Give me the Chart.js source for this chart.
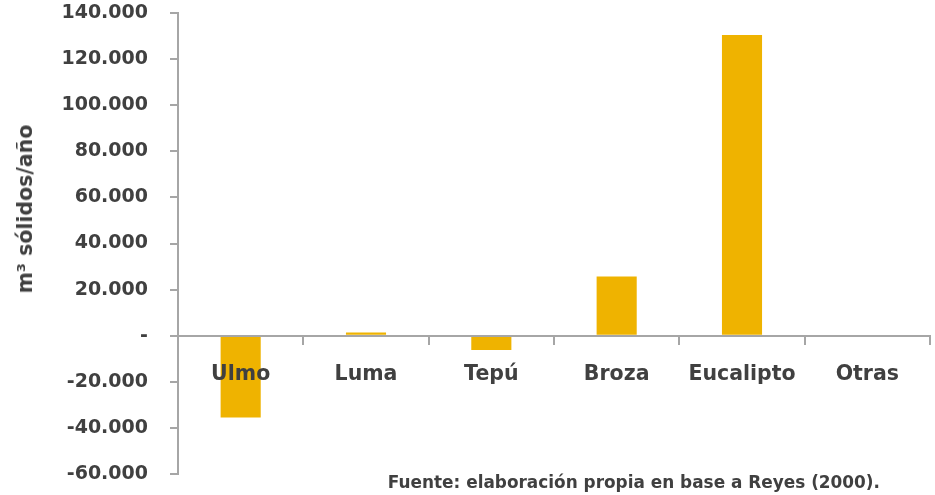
<!DOCTYPE html>
<html>
<head>
<meta charset="utf-8">
<script src="https://cdn.jsdelivr.net/npm/chart.js@4/dist/chart.umd.min.js"></script>
<style>
  html, body { margin: 0; padding: 0; background: #ffffff; }
  #wrap { position: relative; width: 935px; height: 495px; overflow: hidden; }
  #c { position: absolute; left: 0; top: 0; }
  #src { position: absolute; right: 55px; top: 472px; font-family: "DejaVu Sans", sans-serif; font-weight: bold; font-size: 16.9px; color: #404040; white-space: nowrap; }
  #ytitle { position: absolute; left: 25px; top: 209px; transform: translate(-50%, -50%) rotate(-90deg); font-family: "DejaVu Sans", sans-serif; font-weight: bold; font-size: 20.5px; color: #404040; white-space: nowrap; }
</style>
</head>
<body>
<div id="wrap">
  <canvas id="c" width="935" height="495"></canvas>
  <div id="ytitle"></div>
  <div id="src">Fuente: elaboración propia en base a Reyes (2000).</div>
</div>
<script>
const categories = ["Ulmo", "Luma", "Tepú", "Broza", "Eucalipto", "Otras"];
const values = [-35500, 1400, -6200, 25700, 130500, 0];
const yTitle = "m³ sólidos/año";

const textColor = "#404040";
const axisColor = "#A6A6A6";
const barColor = "#EFB300";

document.getElementById("ytitle").textContent = yTitle;

function fmt(v) {
  if (v === 0) return "-";
  const neg = v < 0;
  const s = Math.abs(v).toString().replace(/\B(?=(\d{3})+(?!\d))/g, ".");
  return (neg ? "-" : "") + s;
}

new Chart(document.getElementById("c"), {
  type: "bar",
  data: {
    labels: categories,
    datasets: [{
      data: values,
      backgroundColor: barColor,
      borderWidth: 0,
      barPercentage: 0.32,
      categoryPercentage: 1.0
    }]
  },
  options: {
    responsive: false,
    animation: false,
    devicePixelRatio: 1,
    layout: { padding: { top: 0, right: 5, bottom: 0, left: 0 } },
    plugins: { legend: { display: false }, tooltip: { enabled: false } },
    scales: {
      x: {
        position: { y: 0 },
        grid: {
          display: true,
          drawOnChartArea: false,
          drawTicks: true,
          tickLength: 8,
          color: axisColor,
          lineWidth: 2,
          offset: true,
          z: 1
        },
        border: { display: true, color: axisColor, width: 2, z: 1 },
        ticks: {
          z: 1,
          color: textColor,
          padding: 19,
          font: { family: "DejaVu Sans", weight: "bold", size: 20.5 },
          maxRotation: 0
        }
      },
      y: {
        min: -60000,
        max: 140000,
        afterFit: function(scale) {
          scale.width = 178;
          scale.paddingTop = 13;
          scale.paddingBottom = 21;
        },
        grid: {
          display: true,
          drawOnChartArea: false,
          drawTicks: true,
          tickLength: 8,
          color: axisColor,
          lineWidth: 2
        },
        border: { display: true, color: axisColor, width: 2 },
        ticks: {
          stepSize: 20000,
          color: textColor,
          padding: 22,
          font: { family: "DejaVu Sans", weight: "bold", size: 19 },
          callback: function(v) { return fmt(v); }
        }
      }
    }
  }
});
</script>
</body>
</html>
